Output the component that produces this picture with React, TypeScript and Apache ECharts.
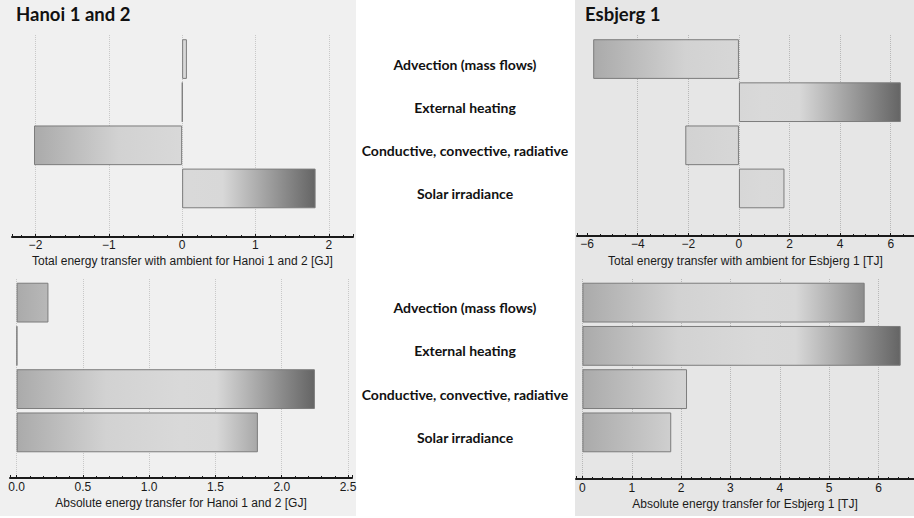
import React, { useEffect, useRef } from 'react';
import * as echarts from 'echarts';

const categories = ['Advection (mass flows)', 'External heating', 'Conductive, convective, radiative', 'Solar irradiance'];
const hanoiTotal = [0.065, 0.004, -2.02, 1.82];
const hanoiAbsolute = [0.24, 0.004, 2.25, 1.82];
const esbjergTotal = [-5.76, 6.4, -2.12, 1.8];
const esbjergAbsolute = [5.72, 6.45, 2.12, 1.8];
const panelTitles = ['Hanoi 1 and 2', 'Esbjerg 1'];
const axisNames = [
  'Total energy transfer with ambient for Hanoi 1 and 2 [GJ]',
  'Absolute energy transfer for Hanoi 1 and 2 [GJ]',
  'Total energy transfer with ambient for Esbjerg 1 [TJ]',
  'Absolute energy transfer for Esbjerg 1 [TJ]',
];

const minus = (v: number) => String(v).replace('-', '\u2212');

const gradientStops = [
  { offset: 0, color: '#aaaaaa' },
  { offset: 0.3, color: '#d2d2d2' },
  { offset: 0.55, color: '#d9d9d9' },
  { offset: 0.67, color: '#d8d8d8' },
  { offset: 1, color: '#646464' },
];

const panels = [
  { data: hanoiTotal, name: axisNames[0], min: -2.32, max: 2.33, interval: 1, minor: 5, left: 12, width: 341, axisTop: 35, axisBottom: 237, barTop: 37.5, barBottom: 210, grid: '#c8c8c8', fmt: minus, labelMargin: 2, nameGap: 18, showCats: false, gridColors: null as any },
  { data: hanoiAbsolute, name: axisNames[1], min: -0.05, max: 2.53, interval: 0.5, minor: 5, left: 10, width: 342, axisTop: 279, axisBottom: 478, barTop: 281, barBottom: 454, grid: '#c8c8c8', fmt: (v: number) => v.toFixed(1), labelMargin: 3, nameGap: 19, showCats: false, gridColors: null as any },
  { data: esbjergTotal, name: axisNames[2], min: -6.4, max: 6.92, interval: 2, minor: 4, left: 577, width: 337, axisTop: 35, axisBottom: 236, barTop: 37.5, barBottom: 210, grid: '#b8b8b8', fmt: minus, labelMargin: 2, nameGap: 19, showCats: true, gridColors: ['rgba(0,0,0,0)', '#b8b8b8', '#b8b8b8', '#b8b8b8', '#b8b8b8', '#b8b8b8', '#b8b8b8', '#b8b8b8'] },
  { data: esbjergAbsolute, name: axisNames[3], min: -0.13, max: 6.72, interval: 1, minor: 5, left: 576, width: 338, axisTop: 279, axisBottom: 479, barTop: 281, barBottom: 454, grid: '#b8b8b8', fmt: (v: number) => String(v), labelMargin: 3, nameGap: 19, showCats: true, gridColors: null as any },
];

export default function App() {
  const ref = useRef<HTMLDivElement>(null);
  useEffect(() => {
    document.body.style.margin = '0';
    const chart = echarts.init(ref.current!, null, { renderer: 'svg' });
    const grids: any[] = [];
    const xAxes: any[] = [];
    const yAxes: any[] = [];
    const series: any[] = [];
    panels.forEach((p, i) => {
      grids.push({ left: p.left, width: p.width, top: p.axisTop, height: p.axisBottom - p.axisTop });
      grids.push({ left: p.left, width: p.width, top: p.barTop, height: p.barBottom - p.barTop });
      xAxes.push({
        gridIndex: 2 * i, type: 'value', min: p.min, max: p.max,
        minInterval: p.interval, maxInterval: p.interval,
        splitNumber: Math.round((p.max - p.min) / p.interval),
        position: 'bottom',
        axisLine: { show: true, onZero: false, lineStyle: { color: '#1a1a1a', width: 2 } },
        axisTick: { show: true, inside: true, length: 3, lineStyle: { color: '#1a1a1a', width: 1 } },
        minorTick: { show: true, splitNumber: p.minor, length: 2, lineStyle: { color: '#1a1a1a', width: 1 } },
        splitLine: { show: true, showMinLine: false, showMaxLine: false, lineStyle: { type: 'dotted', color: p.gridColors || p.grid, width: 1 } },
        axisLabel: { showMinLabel: false, showMaxLabel: false, margin: p.labelMargin, fontFamily: 'Liberation Sans', fontSize: 12, color: '#1a1a1a', formatter: p.fmt },
        name: p.name, nameLocation: 'middle', nameGap: p.nameGap,
        nameTextStyle: { fontFamily: 'Liberation Sans', fontSize: 12, color: '#1a1a1a' },
      });
      xAxes.push({ gridIndex: 2 * i + 1, type: 'value', min: p.min, max: p.max, show: false });
      yAxes.push({ gridIndex: 2 * i, type: 'value', min: 0, max: 1, show: false });
      yAxes.push({
        gridIndex: 2 * i + 1, type: 'category', inverse: true, data: categories, show: p.showCats,
        position: 'left',
        axisLine: { show: false }, axisTick: { show: false }, splitLine: { show: false },
        axisLabel: {
          show: p.showCats, margin: p.left - 465, align: 'center', verticalAlign: 'top', lineHeight: 10,
          fontFamily: 'Lato', fontWeight: 'bold', fontSize: 14, color: '#111',
        },
      });
      series.push({
        type: 'bar', xAxisIndex: 2 * i + 1, yAxisIndex: 2 * i + 1, data: p.data, barCategoryGap: '8%',
        silent: true,
        itemStyle: { color: '#d0d0d0', borderColor: '#7c7c7c', borderWidth: 1 },
      });
    });
    chart.setOption({
      animation: false,
      backgroundColor: '#ffffff',
      title: [
        { text: panelTitles[0], left: 16, top: 4, padding: 0, textStyle: { fontFamily: 'Lato', fontWeight: 'bold', fontSize: 18.5, color: '#111' } },
        { text: panelTitles[1], left: 585, top: 4, padding: 0, textStyle: { fontFamily: 'Lato', fontWeight: 'bold', fontSize: 18.5, color: '#111' } },
      ],
      graphic: [
        { type: 'rect', z: -100, shape: { x: 0, y: 0, width: 356, height: 516 }, style: { fill: '#f0f0f0' }, silent: true },
        { type: 'rect', z: -100, shape: { x: 575, y: 0, width: 339, height: 516 }, style: { fill: '#e6e6e6' }, silent: true },
      ],
      grid: grids,
      xAxis: xAxes,
      yAxis: yAxes,
      series,
    });
    const upd = panels.map((p, i) => {
      const lo = Math.min(0, ...p.data);
      const hi = Math.max(0, ...p.data);
      const x0 = chart.convertToPixel({ xAxisIndex: 2 * i + 1 } as any, lo) as number;
      const x1 = chart.convertToPixel({ xAxisIndex: 2 * i + 1 } as any, hi) as number;
      return { itemStyle: { color: new echarts.graphic.LinearGradient(x0, 0, x1, 0, gradientStops, true) } };
    });
    chart.setOption({ series: upd });
    return () => chart.dispose();
  }, []);
  return <div ref={ref} style={{ width: 914, height: 518 }} />;
}
